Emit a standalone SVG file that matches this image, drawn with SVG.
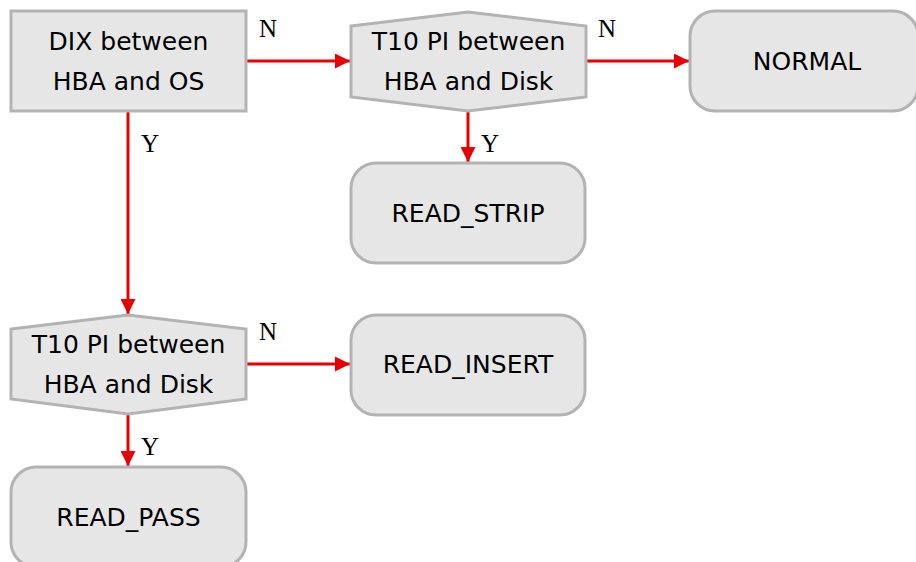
<svg xmlns="http://www.w3.org/2000/svg" width="916" height="562" viewBox="0 0 916 562">
  <style>
    .box { fill: #e6e6e6; stroke: #b3b3b3; stroke-width: 3; }
    .txt { font-family: "DejaVu Sans", sans-serif; font-size: 25px; fill: #000; text-anchor: middle; }
    .edge { stroke: #e60000; stroke-width: 3; fill: none; marker-end: url(#arrow); }
    .lbl { font-family: "Liberation Serif", serif; font-size: 25px; fill: #000; }
  </style>
  <defs>
    <marker id="arrow" viewBox="0 0 10 10" refX="10" refY="5" markerWidth="5" markerHeight="5" markerUnits="strokeWidth" orient="auto">
      <path d="M0,0 L10,5 L0,10 z" fill="#e60000"/>
    </marker>
  </defs>
  <rect width="916" height="562" fill="#ffffff"/>

  <g id="connectors">
    <path class="edge" d="M247,61 H350"/>
    <path class="edge" d="M587,61 H689"/>
    <path class="edge" d="M468,112 V162"/>
    <path class="edge" d="M128,112 V314"/>
    <path class="edge" d="M247,364 H350"/>
    <path class="edge" d="M128,415 V466"/>
    <text class="lbl" x="259" y="37">N</text>
    <text class="lbl" x="598" y="37">N</text>
    <text class="lbl" x="481" y="152">Y</text>
    <text class="lbl" x="141" y="152">Y</text>
    <text class="lbl" x="259" y="340">N</text>
    <text class="lbl" x="141" y="455">Y</text>
  </g>

  <g id="dix">
    <rect class="box" x="11" y="11" width="235" height="100"/>
    <text class="txt" x="128.5" y="50">DIX between</text>
    <text class="txt" x="128.5" y="90">HBA and OS</text>
  </g>

  <g id="t10-top">
    <polygon class="box" points="351,26 468,12 586,26 586,97 468,111 351,97"/>
    <text class="txt" x="468.5" y="50">T10 PI between</text>
    <text class="txt" x="468.5" y="90">HBA and Disk</text>
  </g>

  <g id="normal">
    <rect class="box" x="690" y="11" width="228" height="100" rx="25" ry="25"/>
    <text class="txt" x="807" y="70">NORMAL</text>
  </g>

  <g id="read-strip">
    <rect class="box" x="351" y="163" width="234" height="100" rx="25" ry="25"/>
    <text class="txt" x="468" y="222">READ_STRIP</text>
  </g>

  <g id="t10-bottom">
    <polygon class="box" points="11,329 128,315 246,329 246,399 128,414 11,399"/>
    <text class="txt" x="128.5" y="353">T10 PI between</text>
    <text class="txt" x="128.5" y="393">HBA and Disk</text>
  </g>

  <g id="read-insert">
    <rect class="box" x="351" y="315" width="234" height="100" rx="25" ry="25"/>
    <text class="txt" x="468" y="373">READ_INSERT</text>
  </g>

  <g id="read-pass">
    <rect class="box" x="11" y="467" width="235" height="100" rx="25" ry="25"/>
    <text class="txt" x="128.5" y="526">READ_PASS</text>
  </g>
</svg>
